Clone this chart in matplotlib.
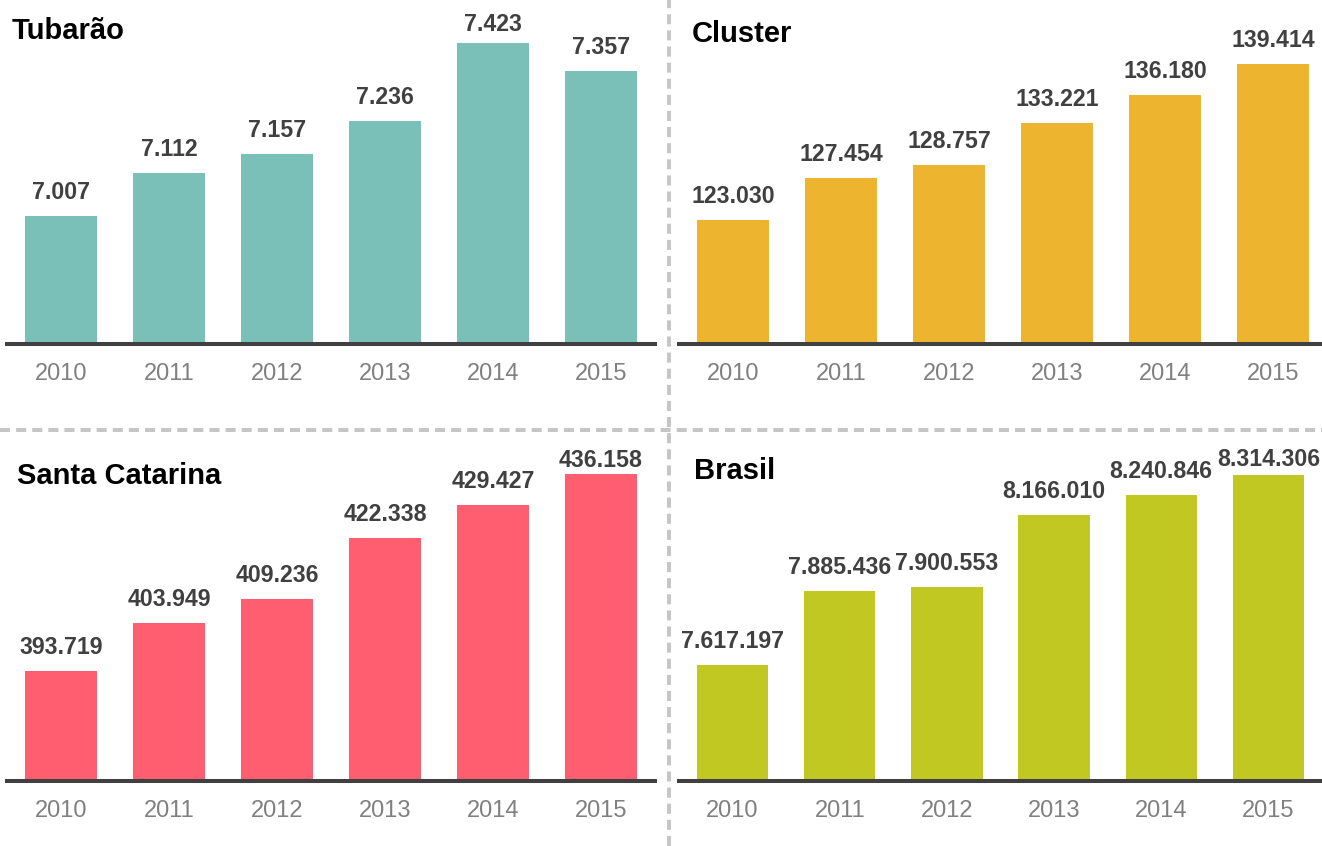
import matplotlib
matplotlib.use("Agg")
import matplotlib.pyplot as plt
from matplotlib.lines import Line2D

plt.rcParams["font.family"] = ["Liberation Sans", "DejaVu Sans"]

W, H, DPI = 1322, 846, 100

years = ["2010", "2011", "2012", "2013", "2014", "2015"]

tubarao = [7007, 7112, 7157, 7236, 7423, 7357]
cluster = [123030, 127454, 128757, 133221, 136180, 139414]
santa_catarina = [393719, 403949, 409236, 422338, 429427, 436158]
brasil = [7617197, 7885436, 7900553, 8166010, 8240846, 8314306]

titles = ["Tubarão", "Cluster", "Santa Catarina", "Brasil"]
colors = ["#7BC0B8", "#EDB42F", "#FF5E70", "#C2C822"]

DARK = "#404040"
GREY = "#808080"
DASH = "#C6C6C6"


def fmt(v):
    return f"{v:,}".replace(",", ".")


fig = plt.figure(figsize=(W / DPI, H / DPI), dpi=DPI)
fig.patch.set_facecolor("white")

# panel layout in pixels: left, right, top, bottom, y-range, title x/baseline, label cap
panels = [
    dict(data=tubarao, box=(7, 655, 0, 344), ylim=(6700, 6700 + 344 / 0.416),
         title_xy=(12, 39), cap=31),
    dict(data=cluster, box=(679, 1327, 0, 344), ylim=(110000, 110000 + 344 / 9.52e-3),
         title_xy=(692, 42), cap=None),
    dict(data=santa_catarina, box=(7, 655, 432, 781),
         ylim=(370000, 370000 + 349 / 4.642e-3), title_xy=(17, 484), cap=467),
    dict(data=brasil, box=(679, 1322, 432, 781),
         ylim=(7190000, 7190000 + 349 / 2.7256e-4), title_xy=(694, 479), cap=466),
]

for p, title, color in zip(panels, titles, colors):
    l, r, t, b = p["box"]
    ax = fig.add_axes([l / W, 1 - b / H, (r - l) / W, (b - t) / H])
    ax.set_xlim(-0.5, 5.5)
    ax.set_ylim(*p["ylim"])
    ax.axis("off")

    xs = list(range(len(years)))
    ax.bar(xs, [v - p["ylim"][0] for v in p["data"]], bottom=p["ylim"][0],
           width=0.665, color=color, zorder=2)
    ax.axhline(p["ylim"][0], color=DARK, lw=2.9, clip_on=False, zorder=3)

    for x, v, yr in zip(xs, p["data"], years):
        _, ydisp = ax.transData.transform((x, v))
        top_px = H - ydisp
        base_px = top_px - 17
        if p["cap"] is not None:
            base_px = max(base_px, p["cap"])
        ax.annotate(fmt(v), xy=(x, v), xytext=(0, top_px - base_px),
                    textcoords="offset pixels", ha="center", va="baseline",
                    fontsize=16.7, fontweight="bold", color=DARK,
                    annotation_clip=False)
        ax.annotate(yr, xy=(x, p["ylim"][0]), xytext=(0, -36),
                    textcoords="offset pixels", ha="center", va="baseline",
                    fontsize=17, color=GREY, annotation_clip=False)

    tx, ty = p["title_xy"]
    fig.text(tx / W, 1 - ty / H, title, ha="left", va="baseline",
             fontsize=21, fontweight="bold", color="black")

# dashed separators between the four panels
dash_style = (0, (2.5, 1.5))
fig.add_artist(Line2D([669 / W, 669 / W], [0, 1], color=DASH, lw=2.9,
                      linestyle=dash_style, transform=fig.transFigure))
fig.add_artist(Line2D([0, 1], [1 - 430 / H, 1 - 430 / H], color=DASH, lw=2.9,
                      linestyle=dash_style, transform=fig.transFigure))

fig.savefig("out.png", dpi=DPI, facecolor="white")
